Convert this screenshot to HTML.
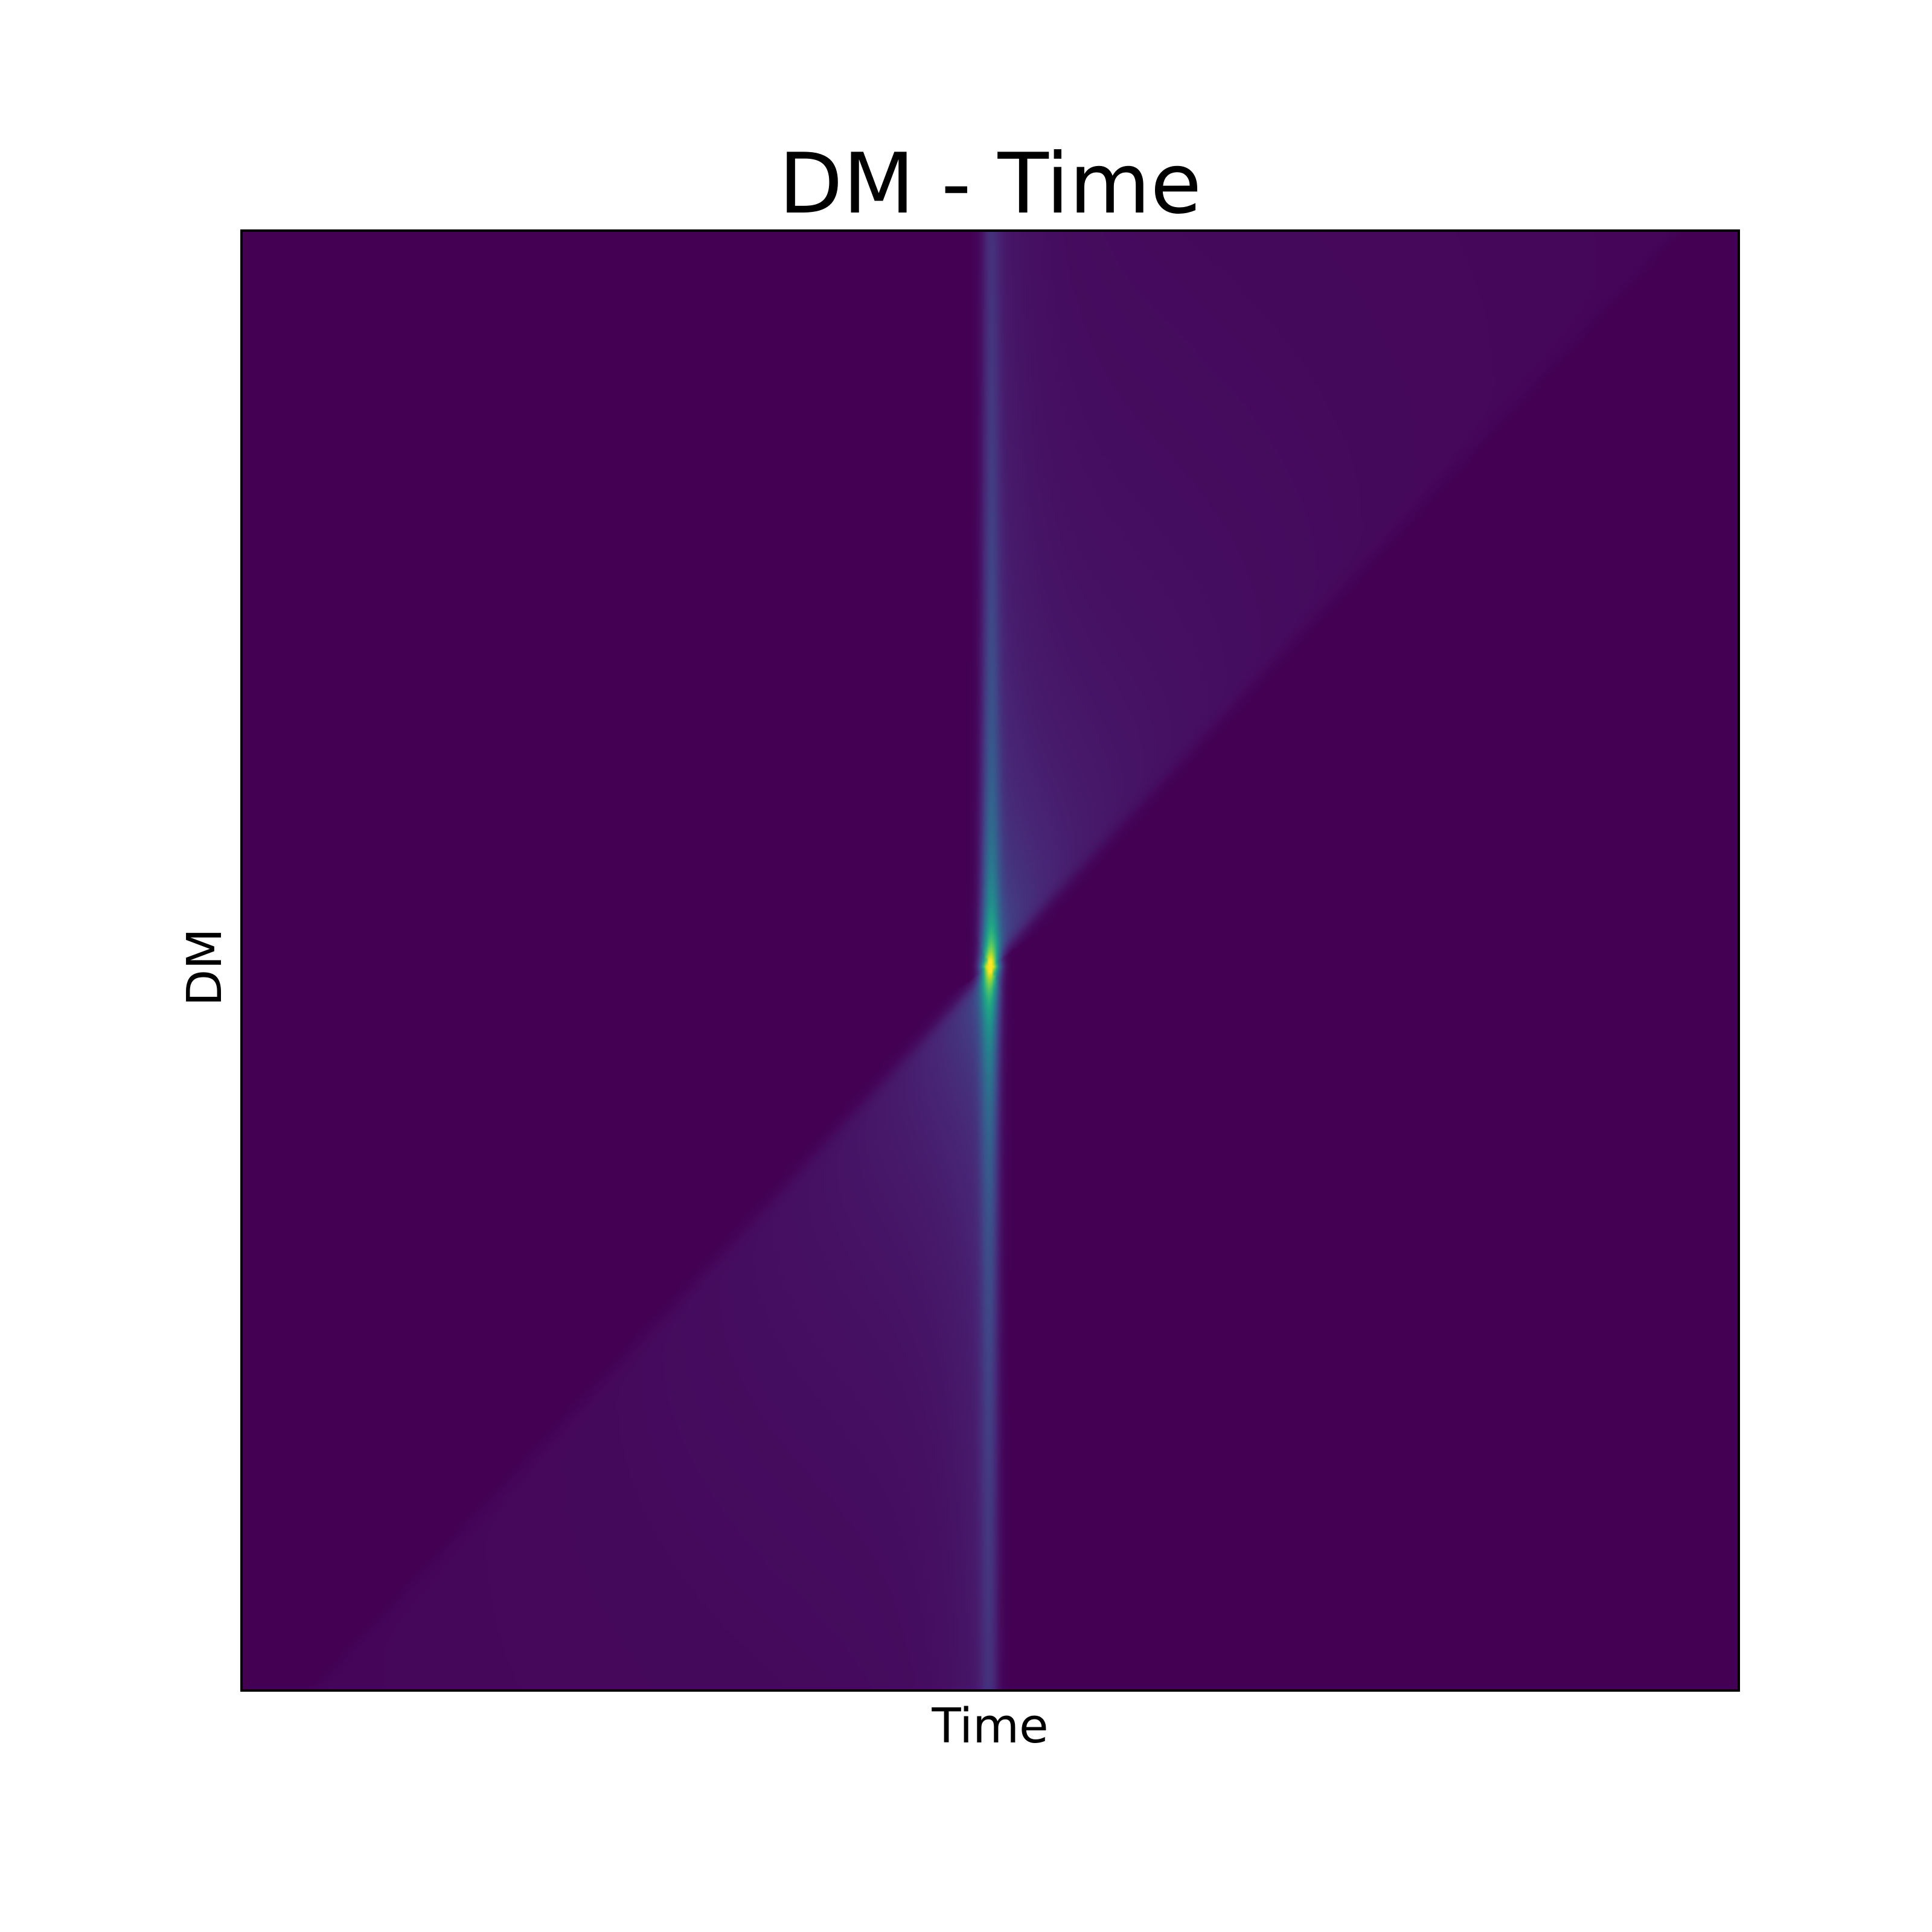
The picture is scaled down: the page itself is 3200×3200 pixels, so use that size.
<!DOCTYPE html>
<html><head><meta charset="utf-8"><style>
html,body{margin:0;padding:0;background:#fff;width:3200px;height:3200px;overflow:hidden}
svg text{font-family:"DejaVu Sans","Liberation Sans",sans-serif;fill:#000}
</style></head><body>
<svg width="3200" height="3200" xmlns="http://www.w3.org/2000/svg">
<text x="1640" y="352" font-size="138" text-anchor="middle">DM - Time</text>
<foreignObject x="400" y="382" width="2480" height="2418">
<canvas id="hm" width="600" height="600" style="width:2480px;height:2418px;display:block" xmlns="http://www.w3.org/1999/xhtml"></canvas>
</foreignObject>
<rect x="400" y="382" width="2480" height="2418" fill="none" stroke="#000" stroke-width="4"/>
<text x="1640" y="2886" font-size="79" text-anchor="middle">Time</text>
<text x="0" y="0" font-size="79" text-anchor="middle" transform="translate(366,1602) rotate(-90)">DM</text>
</svg>
<script>
// pulse arrival (normalized axes), dispersion sweep endpoints, amplitudes
const pulseTime = [0.5];
const pulseDM = [0.507];
const sweepBottomTime = [0.049];
const sweepTopTime = [0.958];
const sweepAmp = [0.014];
const lineAmp = [0.008];
const lineBase = [0.05];
const viridis = ["#440154","#482475","#414487","#355f8d","#2a788e","#21918c","#22a884","#44bf70","#7ad151","#bddf26","#fde725"];
function hex(c){return [1,3,5].map(i=>parseInt(c.substr(i,2),16));}
const vrgb = viridis.map(hex);
function cmap(t){t=Math.max(0,Math.min(1,t));const p=t*(vrgb.length-1);const i=Math.min(vrgb.length-2,Math.floor(p));const f=p-i;
return vrgb[i].map((a,k)=>a+(vrgb[i+1][k]-a)*f);}
function sig(x){return 1/(1+Math.exp(-x));}
const cv=document.getElementById('hm');const ctx=cv.getContext('2d');
const N=600;const img=ctx.createImageData(N,N);
const u0=pulseTime[0];
for(let j=0;j<N;j++){
  const v=1-(j+0.5)/N;
  const ud=sweepBottomTime[0]+(sweepTopTime[0]-sweepBottomTime[0])*v;
  const w=Math.abs(ud-u0);
  const d=ud-u0;
  for(let i=0;i<N;i++){
    const u=(i+0.5)/N;
    let val=0;
    let f=d===0?0:(u-u0)/d;
    const inside=sig(f*w/0.003)*sig((1-f)*w/0.003);
    if(f>-0.5&&f<1.5){
      const ff=Math.max(0,Math.min(1,f));
      val+=inside*sweepAmp[0]/(w+0.04)*(1-0.5*ff);
      val+=inside*0.06*Math.exp(-Math.abs(u-u0)/0.02);
    }
    const g=Math.exp(-Math.pow((u-u0)/0.006,2));
    val+=g*(lineAmp[0]/(w+0.009)+lineBase[0]/(w+0.2));
    const c=cmap(val);const k=(j*N+i)*4;
    img.data[k]=c[0];img.data[k+1]=c[1];img.data[k+2]=c[2];img.data[k+3]=255;
  }
}
ctx.putImageData(img,0,0);
</script>
</body></html>
